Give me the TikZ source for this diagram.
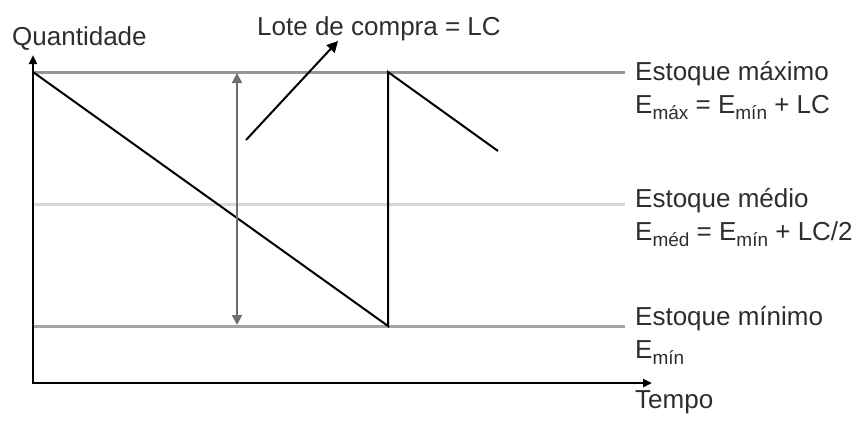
\documentclass[tikz,border=0pt]{standalone}
\usepackage{fontspec}
\setmainfont{Liberation Sans}
\usetikzlibrary{arrows.meta}
\newcommand{\sbs}[1]{\raisebox{-6pt}{\fontsize{19}{19}\selectfont #1}}
\definecolor{txt}{RGB}{45,45,45}
\definecolor{maxc}{RGB}{150,150,150}
\definecolor{medc}{RGB}{215,215,215}
\definecolor{minc}{RGB}{165,165,165}
\definecolor{dblc}{RGB}{110,110,110}
\begin{document}
\begin{tikzpicture}[x=1pt,y=-1pt,
  lbl/.style={anchor=base west,inner sep=0pt,text=txt,font=\fontsize{26}{30}\selectfont},
  axis/.style={line width=2.5pt,black,-{Triangle[length=9pt,width=8pt]}},
  level/.style={line width=3pt},
  saw/.style={line width=2pt,black}]
\useasboundingbox (0,0) rectangle (858,421);
% coordinates
\coordinate (O) at (33,383);
\coordinate (Ytop) at (33,55);
\coordinate (Xend) at (652,383);
\coordinate (maxL) at (33,72);
\coordinate (maxR) at (625,72);
\coordinate (medL) at (33,204);
\coordinate (medR) at (625,204);
\coordinate (minL) at (33,326);
\coordinate (minR) at (625,326);
\coordinate (s1) at (388,326);
\coordinate (s2) at (388,72);
\coordinate (s3) at (498,151);
\coordinate (dA) at (237,73);
\coordinate (dB) at (237,325);
\coordinate (lA) at (246,140);
\coordinate (lB) at (338,41);
% level lines
\draw[level,maxc] (maxL) -- (maxR);
\draw[level,medc] (medL) -- (medR);
\draw[level,minc] (minL) -- (minR);
% axes
\draw[axis,line cap=rect] (O) -- (Ytop);
\draw[axis] (O) -- (Xend);
% sawtooth
\draw[saw,line join=miter] (maxL) -- (s1) -- (s2) -- (s3);
% double arrow
\draw[line width=2pt,dblc,{Triangle[length=10pt,width=10pt]}-{Triangle[length=10pt,width=10pt]}] (dA) -- (dB);
% lote arrow
\draw[saw,-{Triangle[length=11pt,width=11pt]}] (lA) -- (lB);
% labels
\node[lbl] (q) at (12,45) {Quantidade};
\node[lbl] (lc) at (257,35) {Lote de compra = LC};
\node[lbl] (emax1) at (635,80) {Estoque máximo};
\node[lbl] (emax2) at (635,113) {E\sbs{máx} = E\sbs{mín} + LC};
\node[lbl] (emed1) at (635,207) {Estoque médio};
\node[lbl] (emed2) at (635,240) {E\sbs{méd} = E\sbs{mín} + LC/2};
\node[lbl] (emin1) at (635,325) {Estoque mínimo};
\node[lbl] (emin2) at (635,358) {E\sbs{mín}};
\node[lbl] (tempo) at (635,408) {Tempo};
\end{tikzpicture}
\end{document}
